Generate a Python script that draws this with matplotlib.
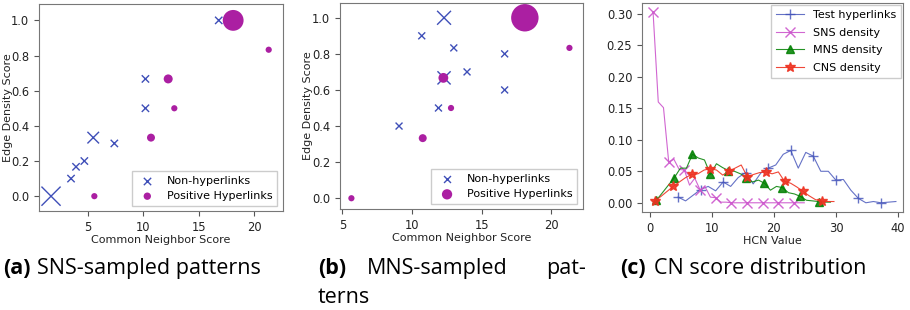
import numpy as np
import matplotlib.pyplot as plt

# (a) SNS-sampled patterns
a_neg_x = [1.7, 3.5, 3.95, 4.7, 5.5, 7.4, 10.2, 10.2, 16.8]
a_neg_y = [0.0, 0.1, 0.167, 0.2, 0.333, 0.3, 0.5, 0.667, 1.0]
a_neg_s = [190, 28, 28, 28, 70, 28, 28, 28, 28]
a_pos_x = [5.6, 10.7, 12.25, 12.8, 18.1, 21.3]
a_pos_y = [0.0, 0.333, 0.667, 0.5, 1.0, 0.833]
a_pos_s = [20, 33, 42, 20, 225, 20]

# (b) MNS-sampled patterns
b_neg_x = [12.3, 10.7, 13.0, 13.95, 16.65, 16.65, 12.3, 11.9, 9.07]
b_neg_y = [1.0, 0.9, 0.833, 0.7, 0.8, 0.6, 0.667, 0.5, 0.4]
b_neg_s = [100, 25, 25, 25, 25, 25, 90, 25, 25]
b_pos_x = [5.65, 10.77, 12.25, 12.8, 18.1, 21.3]
b_pos_y = [0.0, 0.333, 0.667, 0.5, 1.0, 0.833]
b_pos_s = [20, 33, 50, 20, 390, 20]

# (c) CN score distribution
test_x = [4.57, 5.78, 6.99, 8.2, 9.41, 10.62, 11.83, 13.04, 14.25, 15.46,
          16.67, 17.88, 19.09, 20.3, 21.51, 22.72, 23.93, 25.14, 26.35, 27.56,
          28.77, 29.98, 31.19, 32.4, 33.61, 34.82, 36.03, 37.24, 38.45, 39.66]
test_y = [0.009, 0.003, 0.012, 0.021, 0.026, 0.019, 0.033, 0.026, 0.040, 0.048,
          0.030, 0.047, 0.055, 0.060, 0.077, 0.083, 0.055, 0.080, 0.074, 0.050,
          0.050, 0.036, 0.037, 0.020, 0.007, 0.000, 0.002, 0.000, 0.001, 0.002]
sns_x = [0.54, 1.38, 2.22, 3.06, 3.9, 4.74, 5.58, 6.42, 7.26, 8.1,
         8.94, 9.78, 10.62, 11.46, 12.3, 13.14, 13.98, 14.82, 15.66, 16.5,
         17.34, 18.18, 19.02, 19.86, 20.7, 21.54, 22.38, 23.22, 24.06, 24.9]
sns_y = [0.303, 0.16, 0.151, 0.065, 0.069, 0.053, 0.052, 0.028, 0.039, 0.021,
         0.025, 0.009, 0.008, 0.001, 0.001, 0.0, 0.0, 0.0, 0.0, 0.0,
         0.0, 0.0, 0.0, 0.0, 0.0, 0.0, 0.0, 0.0, 0.0, 0.0]
mns_x = [1.08, 2.05, 3.01, 3.98, 4.95, 5.92, 6.88, 7.85, 8.82, 9.78,
         10.75, 11.72, 12.69, 13.65, 14.62, 15.59, 16.55, 17.52, 18.49, 19.45,
         20.42, 21.39, 22.35, 23.32, 24.29, 25.25, 26.22, 27.19, 28.15, 29.12]
mns_y = [0.004, 0.016, 0.028, 0.040, 0.055, 0.055, 0.077, 0.071, 0.068, 0.045,
         0.062, 0.056, 0.051, 0.050, 0.046, 0.040, 0.033, 0.036, 0.031, 0.020,
         0.026, 0.024, 0.016, 0.014, 0.010, 0.004, 0.003, 0.002, 0.001, 0.001]
cns_x = [0.8, 1.8, 2.79, 3.79, 4.78, 5.78, 6.78, 7.77, 8.77, 9.76,
         10.76, 11.76, 12.75, 13.75, 14.74, 15.74, 16.74, 17.73, 18.73, 19.72,
         20.72, 21.72, 22.71, 23.71, 24.7, 25.7, 26.7, 27.69, 28.69, 29.68]
cns_y = [0.003, 0.010, 0.018, 0.026, 0.033, 0.040, 0.045, 0.046, 0.052, 0.054,
         0.052, 0.044, 0.050, 0.055, 0.060, 0.041, 0.045, 0.048, 0.049, 0.046,
         0.049, 0.034, 0.031, 0.025, 0.018, 0.011, 0.005, 0.003, 0.002, 0.002]

captions = ['SNS-sampled patterns', 'MNS-sampled', 'pat-', 'terns', 'CN score distribution']

plt.rcParams['font.size'] = 8
plt.rcParams['xtick.labelsize'] = 8.3
plt.rcParams['ytick.labelsize'] = 8.3
plt.rcParams['axes.edgecolor'] = '#777777'
plt.rcParams['axes.linewidth'] = 0.8
plt.rcParams['xtick.color'] = '#555555'
plt.rcParams['ytick.color'] = '#555555'
plt.rcParams['xtick.labelcolor'] = '#222222'
plt.rcParams['ytick.labelcolor'] = '#222222'
plt.rcParams['axes.labelcolor'] = '#222222'

blue = '#3f4fb8'
purple = '#ab1fa2'

fig = plt.figure(figsize=(9.1, 3.1), dpi=100)
ax1 = fig.add_axes([0.0429, 0.319, 0.268, 0.668])
ax2 = fig.add_axes([0.3736, 0.325, 0.2667, 0.666])
ax3 = fig.add_axes([0.7055, 0.316, 0.2868, 0.674])


def scatter_panel(ax, nx, ny, ns, px, py, ps, leg_sizes, xlim, ylim, ylab_x):
    ax.scatter(nx, ny, s=ns, marker='x', color=blue, linewidths=1.0,
               label='Non-hyperlinks')
    ax.scatter(px, py, s=ps, marker='o', color=purple, edgecolors='none',
               label='Positive Hyperlinks')
    ax.set_xlim(*xlim)
    ax.set_ylim(*ylim)
    ax.set_yticks([0.0, 0.2, 0.4, 0.6, 0.8, 1.0])
    ax.set_xlabel('Common Neighbor Score', labelpad=1)
    ax.set_ylabel('Edge Density Score')
    ax.yaxis.set_label_coords(ylab_x, 0.5)
    leg = ax.legend(loc='lower right', scatterpoints=1, fancybox=False,
                    framealpha=1, edgecolor='#cccccc', borderpad=0.4,
                    handletextpad=0.8, labelspacing=0.5)
    for h, s in zip(leg.legend_handles, leg_sizes):
        h.set_sizes([s])


scatter_panel(ax1, a_neg_x, a_neg_y, a_neg_s, a_pos_x, a_pos_y, a_pos_s,
              [28, 28], (0.62, 22.58), (-0.085, 1.093), -0.107)
ax1.set_xticks([5, 10, 15, 20])
scatter_panel(ax2, b_neg_x, b_neg_y, b_neg_s, b_pos_x, b_pos_y, b_pos_s,
              [25, 55], (4.83, 22.25), (-0.061, 1.083), -0.111)
ax2.set_xticks([5, 10, 15, 20])

ax3.plot(test_x, test_y, color=blue, marker='+', markevery=3, ms=7, lw=0.8,
         alpha=0.8, label='Test hyperlinks')
ax3.plot(sns_x, sns_y, color='#cc55cc', marker='x', markevery=3, ms=6.5, lw=0.8,
         alpha=0.9, label='SNS density')
ax3.plot(mns_x, mns_y, color='green', marker='^', markevery=3, ms=6, lw=0.8,
         alpha=0.85, label='MNS density')
ax3.plot(cns_x, cns_y, color='#ee3322', marker='*', markevery=3, ms=7.5, lw=0.8,
         alpha=0.9, label='CNS density')
ax3.set_xlim(-1.24, 40.8)
ax3.set_ylim(-0.0147, 0.317)
ax3.set_xticks([0, 10, 20, 30, 40])
ax3.set_yticks([0.0, 0.05, 0.10, 0.15, 0.20, 0.25, 0.30])
ax3.set_xlabel('HCN Value', labelpad=1)
ax3.legend(loc='upper right', fancybox=False, framealpha=1, edgecolor='#cccccc',
           borderpad=0.45, labelspacing=0.7, handlelength=2.5,
           bbox_to_anchor=(1.0, 1.0), borderaxespad=0.15)

cap_font = ['Open Sans', 'DejaVu Sans']
cap_size = 15.5
cy = 0.135
fig.text(3 / 910, cy, '(a)', fontsize=cap_size, fontweight='bold', family=cap_font, va='center')
fig.text(37 / 910, cy, captions[0], fontsize=cap_size, family=cap_font, va='center')
fig.text(318 / 910, cy, '(b)', fontsize=cap_size, fontweight='bold', family=cap_font, va='center')
fig.text(367 / 910, cy, captions[1], fontsize=cap_size, family=cap_font, va='center')
fig.text(586 / 910, cy, captions[2], fontsize=cap_size, family=cap_font, va='center', ha='right')
fig.text(318 / 910, 0.04, captions[3], fontsize=cap_size, family=cap_font, va='center')
fig.text(620 / 910, cy, '(c)', fontsize=cap_size, fontweight='bold', family=cap_font, va='center')
fig.text(654 / 910, cy, captions[4], fontsize=cap_size, family=cap_font, va='center')

fig.savefig('out.png', dpi=100)
